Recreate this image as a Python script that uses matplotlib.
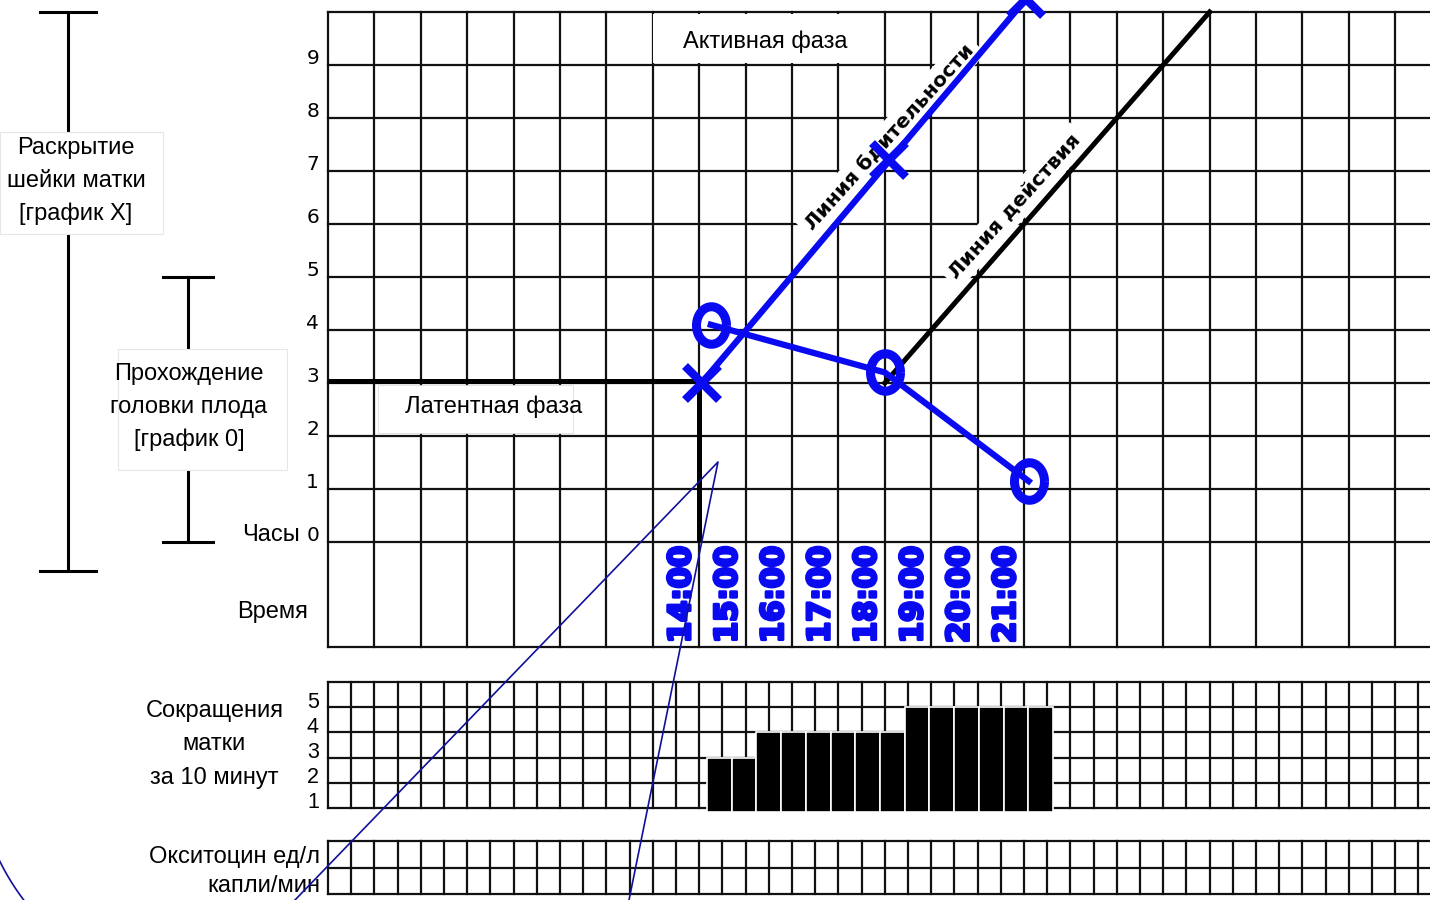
import numpy as np
import matplotlib
matplotlib.use("Agg")
import matplotlib.pyplot as plt
import matplotlib.patheffects as pe
from matplotlib.path import Path
from matplotlib.patches import Rectangle

plt.rcParams['font.family'] = ['Liberation Sans', 'DejaVu Sans']

time_labels = ['14:00', '15:00', '16:00', '17:00', '18:00', '19:00', '20:00', '21:00']
time_cols = [7, 8, 9, 10, 11, 12, 13, 14]

dilation_h = [8.05, 12.1, 15.05]      # cervix dilation (X marks), cm
dilation_cm = [3.0, 7.2, 10.25]
descent_h = [8.25, 12.0, 15.1]        # head descent (O marks)
descent_cm = [4.1, 3.2, 1.15]
latent_h = [0, 8, 8]                  # latent phase border
latent_cm = [3.04, 3.04, 0]
action_h = [12, 19]                   # action line
action_cm = [3, 10]

contractions = [2, 2, 3, 3, 3, 3, 3, 3, 4, 4, 4, 4, 4, 4]
contraction_levels = [1, 2, 3, 4, 5]
dilation_ticks = list(range(10))

W, H = 1430, 900
fig = plt.figure(figsize=(W / 100, H / 100), dpi=100)


def px_axes(l, t, r, b):
    ax = fig.add_axes([l / W, 1 - b / H, (r - l) / W, (b - t) / H])
    ax.axis('off')
    return ax


grid_kw = dict(color='#111111', lw=1.6, clip_on=False, zorder=1)
BLUE = '#0a0af0'

# ---------------- main partograph grid ----------------
ax = px_axes(328, 12, 1430, 647)
ax.set_xlim(0, 1102 / 46.4)
ax.set_ylim(-1.98, 10)
for x in range(24):
    ax.axvline(x, **grid_kw)
for y in range(11):
    ax.axhline(y, **grid_kw)
ax.axhline(-1.98, **grid_kw)

for v in dilation_ticks:
    ax.text(-0.33, v + 0.13, str(v), ha='center', va='center', fontsize=14.5,
            family='DejaVu Sans', clip_on=False)
ax.text(-0.6, 0.13, 'Часы', ha='right', va='center', fontsize=17, clip_on=False)
ax.text(-1.2, -1.32, 'Время', ha='center', va='center', fontsize=17, clip_on=False)

# phase labels
ax.add_patch(Rectangle((1.08, 2.06), 4.2, 0.9, fc='white', ec='#dddddd', lw=0.6, zorder=2))
ax.text(3.58, 2.55, 'Латентная фаза', ha='center', va='center', fontsize=17, zorder=3)
ax.add_patch(Rectangle((7.0, 9.04), 4.2, 0.92, fc='white', ec='none', zorder=2))
ax.text(9.42, 9.43, 'Активная фаза', ha='center', va='center', fontsize=17, zorder=3)

line_lab = dict(rotation=48, ha='center', va='center', fontsize=14.5, fontweight='bold',
                family='DejaVu Sans', rotation_mode='anchor', zorder=3,
                bbox=dict(fc='white', ec='none', pad=4))
ax.text(12.11, 7.64, 'Линия бдительности', **line_lab)
ax.text(14.8, 6.34, 'Линия действия', **line_lab)

ax.plot(latent_h, latent_cm, color='black', lw=3.6, solid_capstyle='butt', zorder=4, clip_on=False)
ax.plot(action_h, action_cm, color='black', lw=3.6, zorder=4, clip_on=False)

ax.plot(dilation_h, dilation_cm, color=BLUE, lw=4.5, zorder=6, clip_on=False)
ax.plot(dilation_h, dilation_cm, ls='none', marker='x', ms=24, mew=6,
        color=BLUE, zorder=7, clip_on=False)

t = np.linspace(0, 2 * np.pi, 80)
ring = Path(np.column_stack([0.8 * np.cos(t), np.sin(t)]))
ax.plot(descent_h, descent_cm, color=BLUE, lw=4.5, zorder=6)
ax.plot(descent_h, descent_cm, ls='none', marker=ring, ms=27, mew=6.5,
        mfc='none', mec=BLUE, zorder=7)

for col, lab in zip(time_cols, time_labels):
    ax.text(col + 0.62, -0.99, lab, rotation=90, ha='center', va='center',
            color=BLUE, fontsize=22, fontweight='heavy', family='DejaVu Sans', zorder=5,
            path_effects=[pe.withStroke(linewidth=2.2, foreground=BLUE)])

# ---------------- contractions ----------------
axc = px_axes(328, 682, 1430, 808)
axc.set_xlim(0, 1102 / 23.2)
axc.set_ylim(0, 5)
for x in range(48):
    axc.axvline(x, **grid_kw)
for y in range(6):
    axc.axhline(y, **grid_kw)
for k in contraction_levels:
    axc.text(-0.65, k - 0.8, str(k), ha='center', va='center', fontsize=15.5, clip_on=False)
axc.text(-4.9, 2.52, 'Сокращения\nматки\nза 10 минут', ha='center', va='center',
         fontsize=17, linespacing=1.65, clip_on=False)

slot = (1053 - 707) / 23.2 / len(contractions)
bar_x = [(707 - 328) / 23.2 + i * slot for i in range(len(contractions))]
axc.bar(bar_x, [c + 0.15 for c in contractions], width=slot, bottom=-0.15, align='edge',
        color='black', edgecolor='white', lw=1.2, zorder=3, clip_on=False)

# ---------------- oxytocin ----------------
axo = px_axes(328, 841, 1430, 894)
axo.set_xlim(0, 1102 / 23.2)
axo.set_ylim(0, 2)
for x in range(48):
    axo.axvline(x, **grid_kw)
for y in range(3):
    axo.axhline(y, **grid_kw)
axo.text(-0.35, 0.85, 'Окситоцин ед/л\nкапли/мин', ha='right', va='center',
         multialignment='right', fontsize=17, linespacing=1.4, clip_on=False)

# ---------------- overlay: brackets, side labels, pen strokes ----------------
ov = fig.add_axes([0, 0, 1, 1])
ov.set_xlim(0, W)
ov.set_ylim(H, 0)
ov.axis('off')

br = dict(color='black', lw=2.2)
ov.plot([68, 68], [12, 571], **br)
ov.plot([40, 96], [12, 12], **br)
ov.plot([40, 96], [571, 571], **br)
ov.plot([188, 188], [277, 542], **br)
ov.plot([163, 213], [277, 277], **br)
ov.plot([163, 213], [542, 542], **br)

ov.add_patch(Rectangle((0, 132), 163, 102, fc='white', ec='#e6e6e6', lw=0.8, zorder=3))
ov.text(76, 181, 'Раскрытие\nшейки матки\n[график X]', ha='center', va='center',
        fontsize=17, linespacing=1.65, zorder=4)
ov.add_patch(Rectangle((118, 349), 169, 121, fc='white', ec='#e6e6e6', lw=0.8, zorder=3))
ov.text(189, 407, 'Прохождение\nголовки плода\n[график 0]', ha='center', va='center',
        fontsize=17, linespacing=1.65, zorder=4)

NAVY = '#10109a'
ov.plot([295, 718, 629], [900, 462, 900], color=NAVY, lw=1.2, zorder=5)
a = np.radians(np.linspace(128, 162, 60))
ov.plot(215 + 240 * np.cos(a), 755 + 240 * np.sin(a), color=NAVY, lw=1.2, zorder=5)

fig.savefig('out.png', dpi=100)
